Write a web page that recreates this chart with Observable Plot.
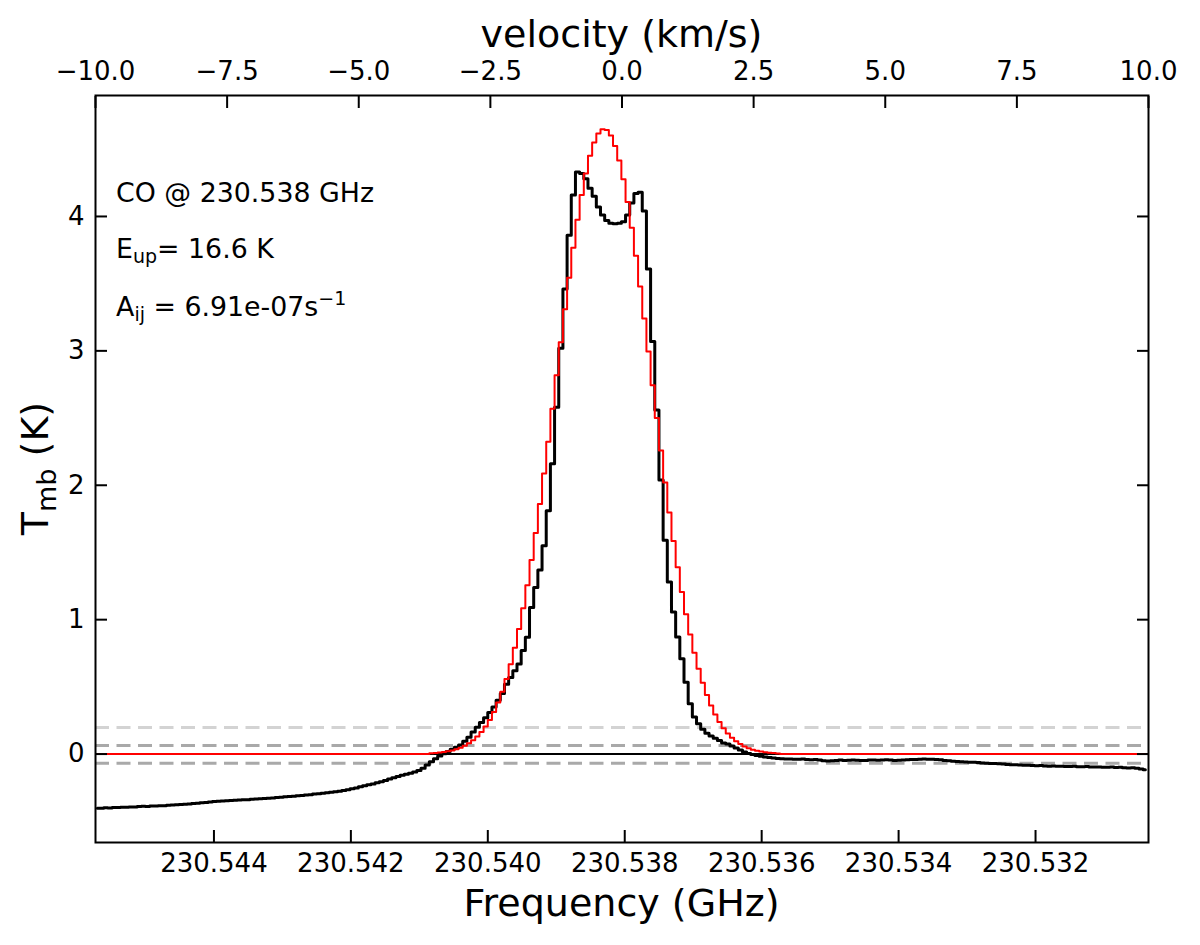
<!DOCTYPE html>
<html>
<head>
<meta charset="utf-8">
<script src="https://cdn.jsdelivr.net/npm/d3@7"></script>
<script src="https://cdn.jsdelivr.net/npm/@observablehq/plot@0.6"></script>
<style>
  html, body { margin: 0; padding: 0; background: #ffffff; }
</style>
</head>
<body>
<div id="chart"></div>
<script>
// ---- spectral grid (channel centres, km/s) ----
const channelStartVelocity = -9.964;
const channelWidth = 0.0793;

// ---- observed spectrum (Tmb, K), one value per channel ----
const observedTmb = [
  -0.403,-0.404,-0.399,-0.401,-0.397,-0.398,-0.395,-0.396,-0.393,-0.394,
  -0.391,-0.389,-0.390,-0.387,-0.386,-0.384,-0.385,-0.381,-0.379,-0.378,
  -0.375,-0.373,-0.372,-0.368,-0.366,-0.363,-0.361,-0.357,-0.353,-0.351,
  -0.349,-0.348,-0.345,-0.344,-0.342,-0.340,-0.339,-0.336,-0.334,-0.333,
  -0.330,-0.328,-0.326,-0.323,-0.321,-0.318,-0.316,-0.313,-0.311,-0.308,
  -0.305,-0.302,-0.298,-0.295,-0.292,-0.288,-0.284,-0.280,-0.276,-0.271,
  -0.266,-0.259,-0.252,-0.244,-0.236,-0.229,-0.222,-0.214,-0.206,-0.196,
  -0.186,-0.176,-0.166,-0.158,-0.150,-0.142,-0.133,-0.122,-0.105,-0.082,
  -0.058,-0.035,-0.014,0.003,0.020,0.035,0.050,0.068,0.095,0.125,
  0.165,0.200,0.235,0.270,0.310,0.350,0.400,0.450,0.520,0.570,
  0.620,0.670,0.770,0.870,1.090,1.240,1.370,1.550,1.810,2.160,
  2.580,3.020,3.460,3.860,4.160,4.330,4.320,4.280,4.210,4.150,
  4.070,4.010,3.970,3.950,3.945,3.950,3.960,4.010,4.100,4.170,
  4.180,4.040,3.610,3.070,2.560,2.040,1.590,1.280,1.057,0.871,
  0.710,0.535,0.375,0.275,0.226,0.185,0.155,0.135,0.118,0.100,
  0.083,0.075,0.060,0.045,0.030,0.015,0.004,-0.004,-0.010,-0.016,
  -0.021,-0.026,-0.030,-0.033,-0.035,-0.037,-0.036,-0.039,-0.038,-0.036,
  -0.040,-0.043,-0.041,-0.045,-0.050,-0.052,-0.050,-0.047,-0.045,-0.047,
  -0.046,-0.044,-0.046,-0.048,-0.047,-0.045,-0.044,-0.046,-0.045,-0.043,
  -0.045,-0.047,-0.046,-0.044,-0.042,-0.041,-0.040,-0.038,-0.037,-0.039,
  -0.038,-0.040,-0.043,-0.047,-0.050,-0.053,-0.055,-0.057,-0.059,-0.061,
  -0.060,-0.063,-0.066,-0.068,-0.070,-0.071,-0.072,-0.074,-0.077,-0.079,
  -0.080,-0.082,-0.084,-0.083,-0.085,-0.087,-0.086,-0.088,-0.090,-0.089,
  -0.091,-0.090,-0.092,-0.093,-0.091,-0.094,-0.095,-0.093,-0.096,-0.097,
  -0.096,-0.098,-0.099,-0.097,-0.100,-0.099,-0.101,-0.103,-0.102,-0.106,
  -0.112,-0.117
];

// ---- model spectrum (Tmb, K), non-zero channels starting at this index ----
const modelFirstChannel = 80;
const modelTmb = [
  0.006,0.008,0.011,0.015,0.021,0.027,0.036,0.047,0.062,0.080,
  0.102,0.130,0.164,0.205,0.254,0.313,0.383,0.464,0.559,0.668,
  0.791,0.930,1.085,1.256,1.443,1.644,1.860,2.087,2.323,2.570,
  2.818,3.064,3.310,3.544,3.767,3.975,4.160,4.319,4.451,4.551,
  4.617,4.648,4.643,4.602,4.525,4.417,4.277,4.108,3.916,3.707,
  3.478,3.240,2.995,2.744,2.500,2.258,2.021,1.797,1.586,1.390,
  1.206,1.040,0.889,0.753,0.634,0.531,0.440,0.362,0.295,0.239,
  0.192,0.153,0.121,0.095,0.074,0.057,0.044,0.033,0.025,0.019,
  0.014,0.010,0.007,0.005
];

// ---- reference levels (K) ----
const threeSigmaLevels = [0.197];
const sigmaLevels = [0.064, -0.068];
const baselineLevel = [0];

// ---- axes ----
const velocityTicks = [-10, -7.5, -5, -2.5, 0, 2.5, 5, 7.5, 10];
const frequencyTicks = [230.544, 230.542, 230.540, 230.538, 230.536, 230.534, 230.532];
const tmbTicks = [0, 1, 2, 3, 4];
const axisRestFrequency = 230.53804; // GHz
const speedOfLight = 299792.458;     // km/s

// ---- annotation text ----
const lineName = "CO @ 230.538 GHz";
const eupText = ["E", "up", "= 16.6 K"];
const aijText = ["A", "ij", " = 6.91e-07s", "\u22121"];
const annotationVelocity = -9.6;
const annotationTmb = [4.104, 3.69, 3.258];

const freqToVel = f => speedOfLight * (axisRestFrequency - f) / axisRestFrequency;
const velToFreq = v => axisRestFrequency * (1 - v / speedOfLight);

const observed = observedTmb.map((t, i) => ({v: channelStartVelocity + i * channelWidth, t}));
const model = observedTmb.map((_, i) => ({
  v: channelStartVelocity + i * channelWidth,
  t: modelTmb[i - modelFirstChannel] ?? 0
}));

const dash = "14,7.5";

const plot = Plot.plot({
  width: 1200,
  height: 945,
  marginTop: 95,
  marginRight: 52,
  marginBottom: 103,
  marginLeft: 95,
  style: {fontFamily: "DejaVu Sans", fontSize: "26px", background: "#ffffff", color: "#000000"},
  x: {domain: [-10, 10]},
  y: {domain: [-0.658, 4.90]},
  marks: [
    Plot.ruleY(threeSigmaLevels, {stroke: "#d3d3d3", strokeWidth: 3, strokeDasharray: dash}),
    Plot.ruleY(sigmaLevels, {stroke: "#a9a9a9", strokeWidth: 3, strokeDasharray: dash}),
    Plot.ruleY(baselineLevel, {stroke: "#000000", strokeWidth: 2}),
    Plot.line(observed, {x: "v", y: "t", curve: "step", stroke: "#000000", strokeWidth: 3, clip: true}),
    Plot.line(model, {x: "v", y: "t", curve: "step", stroke: "#ff0000", strokeWidth: 2, clip: true}),
    Plot.frame({stroke: "#000000", strokeWidth: 2}),
    Plot.axisX(velocityTicks, {anchor: "top", tickSize: -12, tickPadding: 28, strokeWidth: 2,
      tickFormat: d3.format(".1f"), label: null}),
    Plot.axisX(frequencyTicks.map(freqToVel), {anchor: "bottom", tickSize: -12, tickPadding: 23.5, strokeWidth: 2,
      tickFormat: v => d3.format(".3f")(velToFreq(v)), label: null}),
    Plot.axisY(tmbTicks, {anchor: "left", tickSize: -12, tickPadding: 23, strokeWidth: 2,
      tickFormat: d3.format("d"), label: null}),
    Plot.axisY(tmbTicks, {anchor: "right", tickSize: -12, strokeWidth: 2, tickFormat: () => "", label: null})
  ]
});

const svg = d3.select(plot);
const sx = plot.scale("x"), sy = plot.scale("y");
const [xr0, xr1] = sx.range;
const [yr0, yr1] = sy.range;
const xMid = (xr0 + xr1) / 2;
const yMid = (yr0 + yr1) / 2;

// axis titles
svg.append("text")
  .attr("x", xMid).attr("y", yr1 - 48)
  .attr("text-anchor", "middle").attr("font-size", "38px").attr("fill", "#000")
  .text("velocity (km/s)");
svg.append("text")
  .attr("x", xMid).attr("y", yr0 + 74)
  .attr("text-anchor", "middle").attr("font-size", "38px").attr("fill", "#000")
  .text("Frequency (GHz)");
const yl = svg.append("text")
  .attr("transform", `translate(${xr0 - 47},${yMid}) rotate(-90)`)
  .attr("text-anchor", "middle").attr("font-size", "38px").attr("fill", "#000");
yl.append("tspan").text("T");
yl.append("tspan").attr("font-size", "27px").attr("dy", 8).text("mb");
yl.append("tspan").attr("dy", -8).text("\u00a0(K)");

// annotations
const ax = sx.apply(annotationVelocity);
const ann = svg.append("g").attr("font-size", "26.8px").attr("fill", "#000").attr("text-anchor", "start");
ann.append("text").attr("x", ax).attr("y", sy.apply(annotationTmb[0])).text(lineName);
const t2 = ann.append("text").attr("x", ax).attr("y", sy.apply(annotationTmb[1]));
t2.append("tspan").text(eupText[0]);
t2.append("tspan").attr("font-size", "19px").attr("dy", 5).text(eupText[1]);
t2.append("tspan").attr("dy", -5).text(eupText[2]);
const t3 = ann.append("text").attr("x", ax).attr("y", sy.apply(annotationTmb[2]));
t3.append("tspan").text(aijText[0]);
t3.append("tspan").attr("font-size", "19px").attr("dy", 5).text(aijText[1]);
t3.append("tspan").attr("dy", -5).text(aijText[2]);
t3.append("tspan").attr("font-size", "19px").attr("dy", -11).text(aijText[3]);

document.getElementById("chart").append(plot);
</script>
</body>
</html>
